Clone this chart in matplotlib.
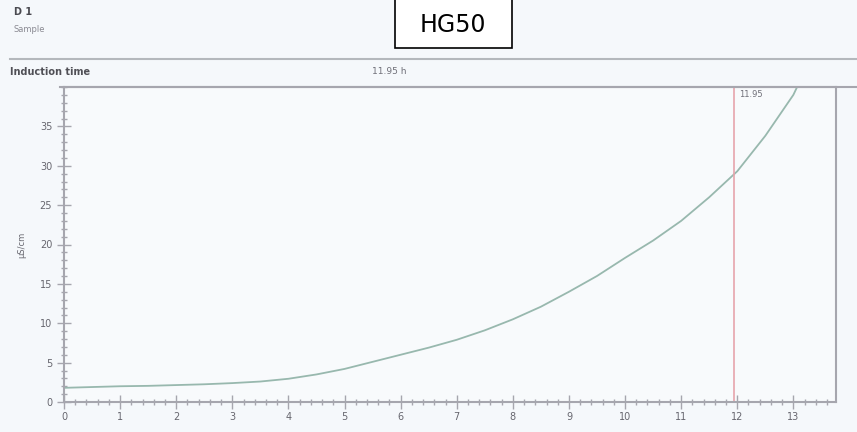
import matplotlib.pyplot as plt
from matplotlib.ticker import MultipleLocator
from matplotlib.patches import Rectangle

# conductivity curve, read every half hour
hours = [0, 0.5, 1, 1.5, 2, 2.5, 3, 3.5, 4, 4.5, 5, 5.5, 6, 6.5, 7, 7.5, 8, 8.5,
         9, 9.5, 10, 10.5, 11, 11.5, 12, 12.5, 13, 13.1]
conductivity = [1.8, 1.9, 2.0, 2.05, 2.15, 2.25, 2.4, 2.6, 2.95, 3.5, 4.2, 5.1, 6.0, 6.9,
                7.9, 9.1, 10.5, 12.1, 14.0, 16.0, 18.3, 20.5, 23.0, 26.0, 29.3, 33.8, 39.0, 40.5]
induction_time = 11.95
x_ticks = list(range(0, 14))
y_ticks = [0, 5, 10, 15, 20, 25, 30, 35]

fig = plt.figure(figsize=(8.57, 4.32), dpi=100, facecolor='#f5f8fb')
ax = fig.add_axes([64 / 857, 30 / 432, 772 / 857, 315 / 432])
ax.set_facecolor('#f8fafc')

ax.plot(hours, conductivity, color='#98b8ae', lw=1.3)
ax.axvline(induction_time, color='#e6a4ac', lw=1.2)
ax.text(induction_time + 0.08, 39.6, '11.95', fontsize=6, color='#6f6f78', va='top')

ax.set_xlim(0, 13.76)
ax.set_ylim(0, 40)
ax.set_xticks(x_ticks)
ax.set_yticks(y_ticks)
ax.xaxis.set_minor_locator(MultipleLocator(0.2))
ax.yaxis.set_minor_locator(MultipleLocator(1))
ax.tick_params(which='major', direction='inout', length=10, width=1, color='#a6a6ae',
               labelsize=7, labelcolor='#66666e')
ax.tick_params(which='minor', direction='inout', length=4, width=1, color='#a6a6ae')
ax.tick_params(axis='x', pad=2)
for s in ax.spines.values():
    s.set_color('#a6a6ae')
    s.set_linewidth(1.5)
ax.set_ylabel('µS/cm', fontsize=6, color='#66666e', labelpad=10)

# header block above the graph
fig.text(14 / 857, 1 - 12 / 432, 'D 1', fontsize=7, fontweight='bold', color='#4a4a50', va='center')
fig.text(14 / 857, 1 - 29 / 432, 'Sample', fontsize=6, color='#8a8a92', va='center')
fig.text(10 / 857, 1 - 72 / 432, 'Induction time', fontsize=7, fontweight='bold', color='#505056', va='center')
fig.text(372 / 857, 1 - 72 / 432, '11.95 h', fontsize=6.5, color='#6f6f78', va='center')
fig.add_artist(plt.Line2D([10 / 857, 1], [1 - 59 / 432] * 2, color='#b4b8bc', lw=1.5))
fig.add_artist(plt.Line2D([60 / 857, 1], [1 - 87 / 432] * 2, color='#a6a6ae', lw=1.5))

# sample name box
fig.add_artist(Rectangle((395 / 857, 1 - 48 / 432), 117 / 857, 50 / 432, transform=fig.transFigure,
                         facecolor='white', edgecolor='black', lw=1.2))
fig.text(453 / 857, 1 - 25 / 432, 'HG50', fontsize=17, color='black', ha='center', va='center')

fig.savefig('out.png', dpi=100, facecolor=fig.get_facecolor())
